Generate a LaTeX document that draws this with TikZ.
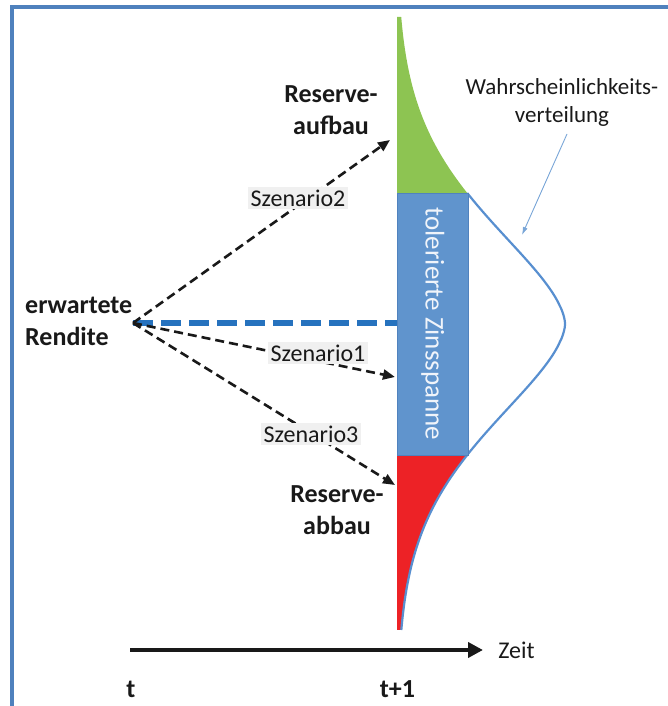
\documentclass[tikz,border=0pt]{standalone}
\usepackage{fontspec}
\setmainfont{Carlito}
\usetikzlibrary{arrows.meta}
\definecolor{framec}{RGB}{79,129,189}
\definecolor{greenc}{RGB}{141,196,82}
\definecolor{redc}{RGB}{237,34,38}
\definecolor{boxc}{RGB}{96,148,205}
\definecolor{bellc}{RGB}{88,143,208}
\definecolor{ptrc}{RGB}{120,165,215}
\definecolor{dblue}{RGB}{38,114,190}
\definecolor{labbg}{RGB}{240,240,240}
\definecolor{txt}{RGB}{25,25,25}
\begin{document}
\begin{tikzpicture}[x=1pt,y=1pt,
  declare function={bell(\d)=168*exp(-0.861*pow(abs(\d)/130+0.0001,1.69));},
  boldlab/.style={font=\fontsize{26}{32}\selectfont\bfseries, text=txt, inner sep=0pt, align=center},
  plainlab/.style={font=\fontsize{23}{27.5}\selectfont, text=txt, inner sep=0pt, align=center},
  scenlab/.style={font=\fontsize{24}{28}\selectfont, text=txt, fill=labbg, inner sep=2.5pt},
  scen/.style={draw=txt, line width=2.6pt, dash pattern=on 9pt off 5pt, -{Triangle[length=12pt,width=10pt]}},
  bluedash/.style={draw=dblue, line width=6pt, dash pattern=on 20pt off 8pt},
  timeaxis/.style={draw=txt, line width=4.5pt, -{Triangle[length=15pt,width=15pt]}},
  zinsbox/.style={fill=boxc, draw={rgb,255:red,80;green,130;blue,190}, line width=0.8pt, inner sep=0pt,
    minimum width=71.5pt, minimum height=262pt, text={rgb,255:red,240;green,244;blue,250}, font=\fontsize{27}{30}\selectfont}
]
\useasboundingbox (0,0) rectangle (668,706);
\clip (0,0) rectangle (668,706);

% frame
\draw[framec, line width=4pt] (12,-10) -- (12,698.5) -- (690,698.5);

% distribution fills
\fill[greenc] (397,689) -- plot[domain=-307:-130, samples=90] ({397+bell(\x)},{382-\x}) -- (397,512) -- cycle;
\fill[redc] (397,252) -- plot[domain=130:306, samples=90] ({397+bell(\x)},{382-\x}) -- (397,76) -- cycle;
\draw[bellc, line width=2.2pt] plot[domain=-131:306, samples=160] ({397+bell(\x)},{382-\x});

% box
\node[zinsbox] (box) at (432.75,382) {\rotatebox{-90}{tolerierte Zinsspanne}};

% labels
\node[boldlab, align=left, anchor=west] (erw) at (25,385) {erwartete\\Rendite};
\node[boldlab] (aufbau) at (331,596) {Reserve-\\aufbau};
\node[boldlab] (abbau) at (337,195.5) {Reserve-\\abbau};
\node[plainlab] (wahr) at (562,603.5) {Wahrscheinlichkeits-\\verteilung};
\node[boldlab] (t0) at (131,17) {t};
\node[boldlab] (t1) at (397.5,17) {t+1};
\node[plainlab, font=\fontsize{24}{28}\selectfont] (zeit) at (516.5,56) {Zeit};

% coordinates
\coordinate (o) at (133,383);
\coordinate (s2) at (390,566);
\coordinate (s1) at (395,329);
\coordinate (s3) at (395,221);
\coordinate (za) at (130,56);
\coordinate (zb) at (483,56);
\coordinate (pstart) at (567,572);
\coordinate (ptip) at (522,471);

% connectors
\draw[bluedash] (o) -- (o -| box.west);
\draw[scen] (o) -- (s2);
\draw[scen] (o) -- (s1);
\draw[scen] (o) -- (s3);
\node[scenlab] (l2) at (298,508) {Szenario2};
\node[scenlab] (l1) at (318,353) {Szenario1};
\node[scenlab] (l3) at (311,272) {Szenario3};

\draw[timeaxis] (za) -- (zb);
\draw[ptrc, line width=0.9pt, -{Latex[length=8pt,width=5pt]}] (pstart) -- (ptip);
\end{tikzpicture}
\end{document}
